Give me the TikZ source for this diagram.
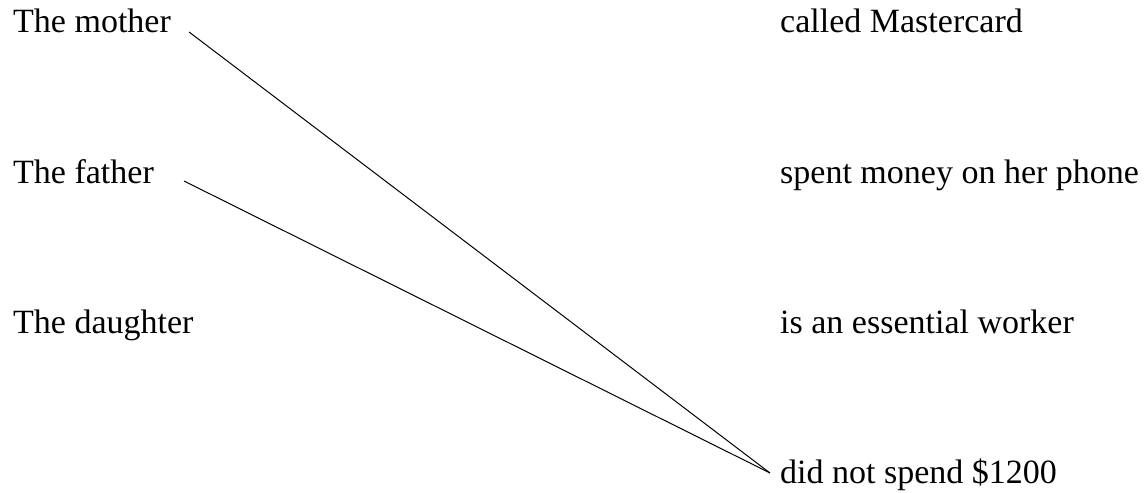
\documentclass[tikz,border=0pt]{standalone}
\usepackage{fontspec}
\setmainfont{Liberation Serif}

\begin{document}
\begin{tikzpicture}[x=1pt, y=-1pt,
    word/.style={inner sep=0pt, anchor=base west, font=\fontsize{34}{40}\selectfont},
    match/.style={line width=1pt}]
  \useasboundingbox (0,0) rectangle (1147,492);

  \node[word] (mother)    at (13,33)  {The mother};
  \node[word] (father)    at (13,183) {The father};
  \node[word] (daughter)  at (13,333) {The daughter};

  \node[word] (called)    at (780,33)  {called Mastercard};
  \node[word] (phone)     at (780,183) {spent money on her phone};
  \node[word] (essential) at (780,333) {is an essential worker};
  \node[word] (spend)     at (780,483) {did not spend \$1200};

  \draw[match] ([xshift=18pt, yshift=1pt]mother.base east) -- ([xshift=-10pt, yshift=10pt]spend.base west);
  \draw[match] ([xshift=30pt, yshift=2pt]father.base east) -- ([xshift=-10pt, yshift=10pt]spend.base west);
\end{tikzpicture}
\end{document}
